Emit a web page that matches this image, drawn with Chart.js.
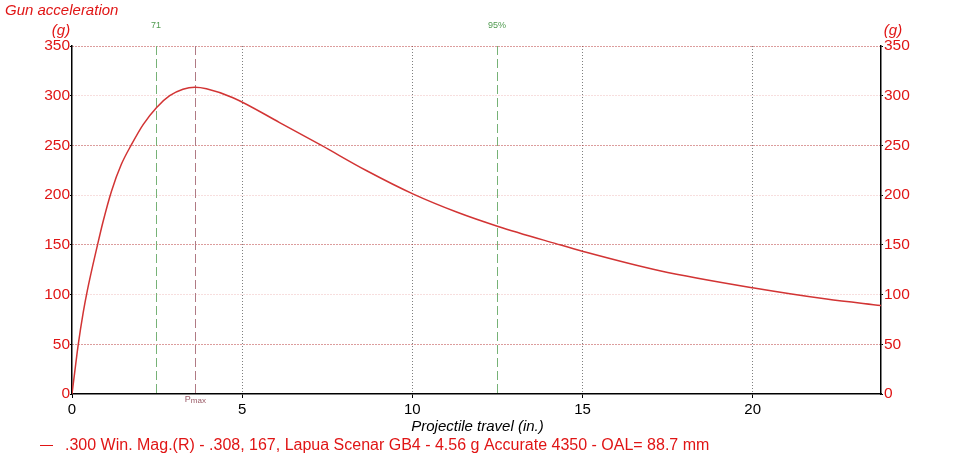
<!DOCTYPE html>
<html>
<head>
<meta charset="utf-8">
<script src="https://cdn.jsdelivr.net/npm/chart.js@4.4.1/dist/chart.umd.min.js"></script>
<style>
  html, body { margin: 0; padding: 0; background: #fff; }
  #wrap { width: 954px; height: 459px; }
</style>
</head>
<body>
<div id="wrap"><canvas id="myChart" width="954" height="459"></canvas></div>
<script>
// projectile travel (in.) and gun acceleration (g)
const travel = [0, 0.08, 0.18, 0.33, 0.45, 0.75, 0.91, 1.16, 1.45, 1.75, 2.09, 2.48, 2.87, 3.26, 3.61,
    3.95, 4.73, 6.10, 7.33, 8.66, 10.03, 11.30, 12.52, 14.24, 15.02, 17.27, 20.04, 22.17, 23.78];
const accel = [0, 22, 49, 82, 104, 150, 173, 204, 231, 251, 271, 288, 300, 306.5, 308.5,
    307, 298, 273, 250, 224.5, 201, 183, 168.5, 151, 143.4, 124, 106.6, 95.5, 89];

// vertical marker lines
const markerNames = ['71', 'Pmax', '95%'];
const markerTravel = [2.47, 3.61, 12.49];

const xMax = 23.77;
const yMax = 350;
const seriesName = '.300 Win. Mag.(R) - .308, 167, Lapua Scenar GB4 - 4.56 g Accurate 4350 - OAL= 88.7 mm';

const red = '#e01515';
const curveColor = '#d23434';
const gridRed = '#b83a3a';
const gridPink = '#efbcbc';
const fontFamily = '"Liberation Sans", Arial, sans-serif';

const ctx = document.getElementById('myChart').getContext('2d');

const extras = {
    id: 'extras',
    beforeDatasetsDraw(chart) {
        const c = chart.ctx;
        const x = chart.scales.x;
        const area = chart.chartArea;
        c.save();
        markerTravel.forEach((v, i) => {
            const px = Math.round(x.getPixelForValue(v)) + 0.5;
            c.strokeStyle = markerNames[i] === 'Pmax' ? '#b07a84' : '#76b276';
            c.lineWidth = 1;
            c.setLineDash([9, 4]);
            c.beginPath();
            c.moveTo(px, area.top);
            c.lineTo(px, area.bottom);
            c.stroke();
        });
        c.restore();
    },
    afterDraw(chart) {
        const c = chart.ctx;
        const x = chart.scales.x;
        const area = chart.chartArea;
        c.save();
        c.setLineDash([]);
        // marker labels
        c.font = '9px ' + fontFamily;
        c.textAlign = 'center';
        c.textBaseline = 'middle';
        markerTravel.forEach((v, i) => {
            const px = x.getPixelForValue(v);
            if (markerNames[i] === 'Pmax') {
                c.fillStyle = '#9a5a66';
                c.textAlign = 'right';
                c.fillText('P', px - 4, area.bottom + 6);
                c.textAlign = 'left';
                c.font = '8px ' + fontFamily;
                c.fillText('max', px - 4, area.bottom + 7);
                c.font = '9px ' + fontFamily;
                c.textAlign = 'center';
            } else {
                c.fillStyle = '#4f9a4f';
                c.fillText(markerNames[i], px, area.top - 20);
            }
        });
        // axis titles
        c.fillStyle = red;
        c.font = 'italic 15px ' + fontFamily;
        c.textAlign = 'left';
        c.fillText('Gun acceleration', 5, 11);
        c.textAlign = 'center';
        c.fillText('(g)', 61, 31);
        c.fillText('(g)', 893, 31);
        c.fillStyle = '#000';
        c.fillText('Projectile travel (in.)', (area.left + area.right) / 2 + 1, 427);
        // legend
        c.fillStyle = red;
        c.font = '16px ' + fontFamily;
        c.textAlign = 'left';
        c.fillText(seriesName, 65, 446);
        c.strokeStyle = red;
        c.lineWidth = 1;
        c.beginPath();
        c.moveTo(40, 445.5);
        c.lineTo(53, 445.5);
        c.stroke();
        c.restore();
    }
};

const yGridColor = (context) => {
    const v = context.tick.value;
    if (v === 0) return 'rgba(0,0,0,0)';
    return v % 100 === 0 ? gridPink : gridRed;
};

const myChart = new Chart(ctx, {
    type: 'line',
    data: {
        datasets: [{
            label: seriesName,
            data: travel.map((t, i) => ({ x: t, y: accel[i] })),
            borderColor: curveColor,
            borderWidth: 1.5,
            pointRadius: 0,
            fill: false,
            cubicInterpolationMode: 'monotone',
            yAxisID: 'y'
        }]
    },
    options: {
        responsive: false,
        animation: false,
        devicePixelRatio: 1,
        layout: { padding: { top: 46, left: 0, right: 0, bottom: 0 } },
        plugins: {
            legend: { display: false },
            tooltip: { enabled: false }
        },
        scales: {
            x: {
                type: 'linear',
                min: 0,
                max: xMax,
                afterFit(scale) { scale.height = 65; },
                ticks: {
                    stepSize: 5,
                    includeBounds: false,
                    color: '#000',
                    padding: 3,
                    font: { family: fontFamily, size: 15 }
                },
                grid: {
                    color: (context) => context.tick.value === 0 ? 'rgba(0,0,0,0)' : '#808080',
                    tickColor: '#000',
                    tickLength: 4
                },
                border: { display: true, color: '#000', width: 1.5, dash: [1, 2] }
            },
            y: {
                position: 'left',
                min: 0,
                max: yMax,
                afterFit(scale) { scale.width = 72; },
                ticks: {
                    stepSize: 50,
                    color: red,
                    padding: 0,
                    font: { family: fontFamily, size: 15.5 }
                },
                grid: {
                    color: yGridColor,
                    tickColor: '#000',
                    tickLength: 2
                },
                border: { display: true, color: '#000', width: 1.5, dash: [1, 2] }
            },
            y2: {
                position: 'right',
                min: 0,
                max: yMax,
                afterFit(scale) { scale.width = 73; },
                ticks: {
                    stepSize: 50,
                    color: red,
                    padding: 1,
                    font: { family: fontFamily, size: 15.5 }
                },
                grid: {
                    drawOnChartArea: false,
                    tickColor: '#000',
                    tickLength: 2
                },
                border: { display: true, color: '#000', width: 1.5 }
            }
        }
    },
    plugins: [extras]
});
</script>
</body>
</html>
